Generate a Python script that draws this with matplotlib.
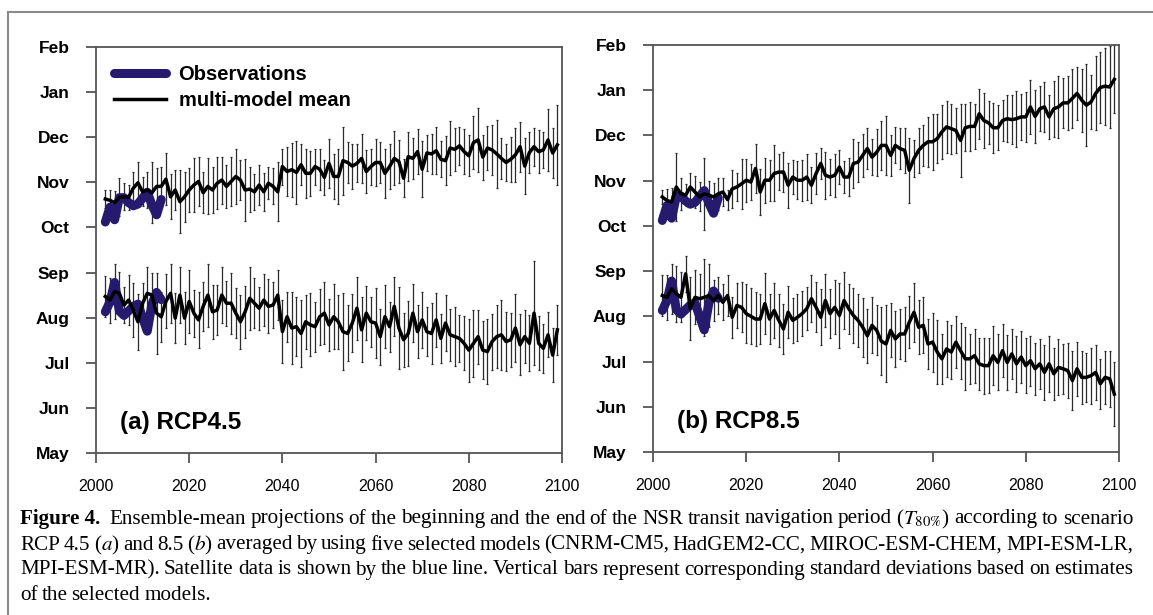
import numpy as np
import matplotlib
matplotlib.use("Agg")
import matplotlib.pyplot as plt
from matplotlib.lines import Line2D

plt.rcParams['font.family'] = ['Liberation Sans', 'DejaVu Sans']
plt.rcParams['mathtext.fontset'] = 'stix'

# month axis: May = 0 ... Feb = 9
month_labels = ['May', 'Jun', 'Jul', 'Aug', 'Sep', 'Oct', 'Nov', 'Dec', 'Jan', 'Feb']
year_ticks = [2000, 2020, 2040, 2060, 2080, 2100]
years = list(range(2002, 2100))
obs_years = list(range(2002, 2015))

# satellite observations (same in both panels)
obs_start = [3.13, 3.35, 3.78, 3.15, 3.05, 3.15, 3.25, 3.30, 3.00, 2.70, 3.30, 3.56, 3.40]
obs_end = [5.12, 5.45, 5.17, 5.66, 5.66, 5.55, 5.48, 5.52, 5.65, 5.78, 5.50, 5.28, 5.62]

# RCP4.5 multi-model mean, end of navigation (upper curve)
rcp45_end = [5.63, 5.60, 5.55, 5.67, 5.68, 5.67, 5.87, 5.99, 5.79, 5.83,
             5.77, 5.91, 5.91, 6.07, 5.68, 5.83, 5.57, 5.68, 5.83, 5.94,
             6.02, 5.77, 5.91, 5.83, 5.98, 6.05, 5.91, 6.02, 6.13, 6.05,
             5.83, 5.85, 5.79, 5.94, 5.79, 5.98, 5.91, 5.79, 6.35, 6.24,
             6.28, 6.22, 6.39, 6.20, 6.20, 6.35, 6.29, 6.11, 6.42, 6.13,
             6.13, 6.48, 6.44, 6.36, 6.42, 6.53, 6.24, 6.35, 6.44, 6.44,
             6.20, 6.35, 6.53, 6.46, 6.09, 6.57, 6.53, 6.68, 6.29, 6.65,
             6.63, 6.70, 6.51, 6.48, 6.76, 6.73, 6.81, 6.68, 6.59, 6.88,
             6.94, 6.56, 6.76, 6.72, 6.63, 6.53, 6.44, 6.51, 6.61, 6.79,
             6.36, 6.66, 6.79, 6.68, 6.72, 6.94, 6.65, 6.83]
rcp45_end_sd = [0.20, 0.22, 0.25, 0.42, 0.30, 0.28, 0.35, 0.45, 0.32, 0.40,
                0.68, 0.40, 0.42, 0.57, 0.50, 0.45, 0.70, 0.55, 0.48, 0.60,
                0.55, 0.45, 0.62, 0.50, 0.58, 0.52, 0.48, 0.55, 0.60, 0.45,
                0.68, 0.50, 0.40, 0.45, 0.42, 0.35, 0.40, 0.65, 0.40, 0.55,
                0.60, 0.70, 0.45, 0.55, 0.50, 0.40, 0.45, 0.38, 0.55, 0.50,
                0.60, 0.75, 0.45, 0.50, 0.42, 0.55, 0.48, 0.40, 0.52, 0.45,
                0.55, 0.50, 0.60, 0.48, 0.42, 0.55, 0.45, 0.50, 0.62, 0.40,
                0.45, 0.52, 0.40, 0.55, 0.60, 0.48, 0.42, 0.50, 0.45, 0.58,
                0.70, 0.50, 0.48, 0.55, 0.75, 0.45, 0.40, 0.50, 0.60, 0.55,
                0.62, 0.45, 0.42, 0.48, 0.40, 0.68, 0.55, 0.88]

# RCP4.5 multi-model mean, beginning of navigation (lower curve)
rcp45_start = [3.47, 3.39, 3.58, 3.54, 3.28, 3.39, 3.17, 2.91, 3.32, 3.54,
               3.50, 3.10, 3.02, 3.36, 3.54, 2.99, 3.50, 2.99, 3.36, 3.10,
               2.95, 3.25, 3.50, 3.13, 3.17, 3.50, 3.32, 3.32, 3.10, 2.91,
               3.13, 3.43, 3.32, 3.21, 3.39, 3.25, 3.28, 3.50, 2.69, 3.02,
               2.77, 2.80, 2.65, 2.91, 2.84, 2.80, 3.02, 3.10, 2.84, 3.02,
               2.91, 2.69, 2.65, 2.88, 3.21, 2.73, 3.10, 2.91, 2.88, 2.58,
               3.02, 2.80, 3.25, 2.77, 2.51, 2.65, 3.10, 2.69, 2.95, 2.69,
               2.65, 2.95, 2.54, 2.88, 2.62, 2.58, 2.54, 2.43, 2.28, 2.43,
               2.58, 2.28, 2.25, 2.47, 2.58, 2.62, 2.47, 2.51, 2.77, 2.40,
               2.58, 2.43, 3.10, 2.43, 2.32, 2.62, 2.17, 2.73]
rcp45_start_sd = [0.45, 0.50, 0.62, 0.48, 0.40, 0.55, 0.60, 0.62, 0.45, 0.58,
                  0.50, 0.90, 0.55, 0.60, 0.65, 0.55, 0.62, 0.58, 0.70, 0.52,
                  0.62, 0.55, 0.70, 0.60, 0.55, 0.62, 0.50, 0.68, 0.55, 0.60,
                  0.58, 0.70, 0.55, 0.48, 0.58, 0.60, 0.52, 0.55, 0.70, 0.55,
                  0.80, 0.65, 0.75, 0.60, 0.70, 0.55, 0.62, 0.68, 0.58, 0.72,
                  0.60, 0.85, 0.62, 0.65, 0.70, 0.72, 0.60, 0.55, 0.78, 0.62,
                  0.70, 0.55, 0.65, 0.90, 0.60, 0.72, 0.65, 0.58, 0.62, 0.55,
                  0.68, 0.60, 0.55, 0.62, 0.58, 0.65, 0.52, 0.60, 0.70, 0.75,
                  0.60, 0.65, 0.72, 0.62, 0.70, 0.78, 0.65, 0.60, 0.75, 0.68,
                  0.58, 0.62, 1.15, 0.60, 0.55, 0.50, 0.60, 0.55]

# RCP8.5 multi-model mean, end of navigation (upper curve)
rcp85_end = [5.64, 5.56, 5.53, 5.86, 5.71, 5.68, 5.86, 5.75, 5.64, 5.71,
             5.68, 5.64, 5.71, 5.75, 5.58, 5.82, 5.86, 5.93, 6.01, 5.97,
             6.27, 5.75, 6.01, 6.01, 6.16, 6.19, 6.19, 5.90, 6.08, 6.01,
             6.01, 6.08, 5.90, 6.16, 6.38, 6.12, 6.08, 6.12, 6.30, 6.08,
             6.08, 6.38, 6.41, 6.56, 6.71, 6.52, 6.63, 6.78, 6.78, 6.56,
             6.78, 6.71, 6.67, 6.23, 6.49, 6.67, 6.78, 6.86, 6.86, 6.93,
             7.08, 7.19, 7.15, 7.11, 6.89, 7.17, 7.20, 7.20, 7.48, 7.33,
             7.28, 7.17, 7.17, 7.33, 7.37, 7.35, 7.37, 7.41, 7.41, 7.63,
             7.42, 7.59, 7.63, 7.41, 7.59, 7.63, 7.72, 7.72, 7.82, 7.93,
             7.78, 7.67, 7.74, 7.93, 8.06, 8.09, 8.07, 8.24]
rcp85_end_sd = [0.15, 0.25, 0.30, 0.75, 0.35, 0.25, 0.30, 0.35, 0.32, 0.80,
                0.32, 0.30, 0.35, 0.30, 0.22, 0.42, 0.30, 0.55, 0.48, 0.40,
                0.55, 0.50, 0.50, 0.45, 0.62, 0.40, 0.45, 0.50, 0.38, 0.42,
                0.45, 0.50, 0.40, 0.45, 0.35, 0.52, 0.40, 0.48, 0.38, 0.35,
                0.42, 0.55, 0.45, 0.48, 0.45, 0.40, 0.52, 0.55, 0.65, 0.45,
                0.40, 0.45, 0.50, 0.72, 0.40, 0.50, 0.45, 0.55, 0.62, 0.55,
                0.60, 0.58, 0.55, 0.50, 0.80, 0.52, 0.55, 0.50, 0.55, 0.60,
                0.48, 0.55, 0.50, 0.45, 0.52, 0.55, 0.62, 0.50, 0.55, 0.60,
                0.58, 0.50, 0.55, 0.48, 0.62, 0.68, 0.55, 0.60, 0.65, 0.58,
                0.70, 0.90, 0.60, 0.82, 0.78, 0.85, 0.90, 0.75]

# RCP8.5 multi-model mean, beginning of navigation (lower curve)
rcp85_start = [3.46, 3.42, 3.61, 3.50, 3.42, 3.94, 3.17, 3.42, 3.39, 3.42,
               3.46, 3.35, 3.46, 3.31, 3.46, 2.98, 3.24, 3.20, 3.06, 3.00,
               2.94, 2.94, 3.28, 2.94, 3.13, 2.91, 2.72, 3.09, 2.91, 2.98,
               3.06, 3.17, 3.39, 3.20, 2.98, 3.35, 3.06, 3.20, 3.02, 3.35,
               3.17, 3.02, 2.91, 2.76, 2.57, 2.80, 2.69, 2.45, 2.39, 2.69,
               2.50, 2.61, 2.61, 2.87, 3.09, 2.76, 2.80, 2.39, 2.43, 2.21,
               2.06, 2.28, 2.21, 2.43, 2.24, 2.06, 2.06, 2.13, 1.95, 1.91,
               1.91, 2.13, 1.98, 2.24, 1.98, 2.17, 1.95, 2.10, 1.91, 2.02,
               1.84, 1.95, 1.76, 1.95, 1.73, 1.87, 1.84, 1.80, 1.58, 1.84,
               1.65, 1.65, 1.69, 1.76, 1.51, 1.65, 1.62, 1.28]
rcp85_start_sd = [0.45, 0.50, 0.55, 0.62, 0.55, 0.40, 0.70, 0.60, 0.55, 0.85,
                  0.70, 0.45, 0.40, 0.40, 0.45, 0.45, 0.50, 0.55, 0.65, 0.62,
                  0.60, 0.55, 0.68, 0.55, 0.60, 0.58, 0.55, 0.58, 0.50, 0.52,
                  0.50, 0.48, 0.52, 0.55, 0.62, 0.58, 0.55, 0.60, 0.72, 0.62,
                  0.55, 0.60, 0.58, 0.65, 0.60, 0.62, 0.55, 0.75, 0.85, 0.60,
                  0.62, 0.55, 0.60, 0.58, 0.65, 0.60, 0.62, 0.55, 0.65, 0.70,
                  0.55, 0.62, 0.60, 0.58, 0.62, 0.70, 0.55, 0.60, 0.58, 0.62,
                  0.60, 0.65, 0.62, 0.58, 0.60, 0.55, 0.62, 0.58, 0.60, 0.55,
                  0.58, 0.55, 0.60, 0.62, 0.58, 0.62, 0.55, 0.60, 0.65, 0.60,
                  0.58, 0.55, 0.62, 0.60, 0.55, 0.58, 0.62, 0.70]

caption_lines = [
    'Ensemble-mean projections of the beginning and the end of the NSR transit '
    'navigation period ($T_{80\\%}$) according to scenario',
    'RCP 4.5 ($a$) and 8.5 ($b$) averaged by using five selected models '
    '(CNRM-CM5, HadGEM2-CC, MIROC-ESM-CHEM, MPI-ESM-LR,',
    'MPI-ESM-MR). Satellite data is shown by the blue line. Vertical bars '
    'represent corresponding standard deviations based on estimates',
    'of the selected models.',
]

obs_color = '#261a6e'
spine_color = '#555555'
W, H = 1153, 615


def draw_panel(ax, mean_end, sd_end, mean_start, sd_start, label):
    for mean, sd in [(mean_end, sd_end), (mean_start, sd_start)]:
        ax.errorbar(years, mean, yerr=sd, fmt='none', ecolor='#2b2b2b',
                    elinewidth=0.9, capsize=1.0, capthick=0.9, zorder=2)
    for obs in [obs_end, obs_start]:
        ax.plot(obs_years, obs, color=obs_color, lw=6.5,
                solid_capstyle='round', solid_joinstyle='round', zorder=3)
    for mean in [mean_end, mean_start]:
        ax.plot(years, mean, color='black', lw=2.5,
                solid_joinstyle='round', zorder=4)

    ax.set_xlim(2000, 2100)
    ax.set_ylim(0, 9)
    ax.set_xticks(year_ticks)
    ax.set_xticklabels([str(y) for y in year_ticks], fontsize=11.5)
    ax.set_yticks(range(10))
    ax.set_yticklabels(month_labels, fontsize=12.5, fontweight='bold')
    ax.tick_params(axis='both', direction='out', length=7, width=1.3,
                   color=spine_color)
    ax.tick_params(axis='y', pad=12)
    ax.tick_params(axis='x', pad=12)
    for sp in ax.spines.values():
        sp.set_color(spine_color)
        sp.set_linewidth(1.3)
    ax.text(0.052, 0.076, label, transform=ax.transAxes, fontsize=17.5,
            fontweight='bold', va='center', ha='left')


def put_line(fig, r, text, x_start, x_end, y, justify, kw):
    # place words one by one so that justified lines reach the right margin
    words = text.split(' ')
    arts = [fig.text(0, y, wd, **kw) for wd in words]
    widths = [a.get_window_extent(renderer=r).width for a in arts]
    space = 4.0
    if justify and len(words) > 1:
        space = (x_end - x_start - sum(widths)) / (len(words) - 1)
    x = x_start
    for a, w in zip(arts, widths):
        a.set_x(x / W)
        x += w + space


def add_caption(fig):
    fig.canvas.draw()
    r = fig.canvas.get_renderer()
    ys = [1 - 519 / H, 1 - 545 / H, 1 - 570 / H, 1 - 595 / H]
    kw = dict(family='Liberation Serif', fontsize=15.2, va='center', ha='left')
    t = fig.text(20 / W, ys[0], 'Figure 4.', fontweight='bold', **kw)
    w = t.get_window_extent(renderer=r).width
    put_line(fig, r, caption_lines[0], 20 + w + 9, 1133, ys[0], True, kw)
    put_line(fig, r, caption_lines[1], 20, 1133, ys[1], True, kw)
    put_line(fig, r, caption_lines[2], 20, 1133, ys[2], True, kw)
    put_line(fig, r, caption_lines[3], 20, 1133, ys[3], False, kw)


def main():
    fig = plt.figure(figsize=(W / 100, H / 100), dpi=100)
    ax1 = fig.add_axes([96 / W, 1 - 453 / H, 466 / W, 406 / H])
    ax2 = fig.add_axes([653 / W, 1 - 452 / H, 466 / W, 407 / H])

    draw_panel(ax1, rcp45_end, rcp45_end_sd, rcp45_start, rcp45_start_sd, '(a) RCP4.5')
    draw_panel(ax2, rcp85_end, rcp85_end_sd, rcp85_start, rcp85_start_sd, '(b) RCP8.5')

    handles = [Line2D([], [], color=obs_color, lw=6.5, solid_capstyle='round'),
               Line2D([], [], color='black', lw=2.5)]
    ax1.legend(handles, ['Observations', 'multi-model mean'], loc='upper left',
               frameon=False, prop={'weight': 'bold', 'size': 14.5},
               handlelength=2.6, handletextpad=0.6, labelspacing=0.35,
               bbox_to_anchor=(0.0, 1.0))

    # thin page frame (top and left)
    fig.add_artist(Line2D([8 / W, 1], [1 - 12 / H, 1 - 12 / H],
                          color='#8a8a8a', lw=1.5))
    fig.add_artist(Line2D([8 / W, 8 / W], [0, 1 - 12 / H],
                          color='#8a8a8a', lw=1.5))

    add_caption(fig)
    fig.savefig('out.png', dpi=100)


if __name__ == "__main__":
    main()
